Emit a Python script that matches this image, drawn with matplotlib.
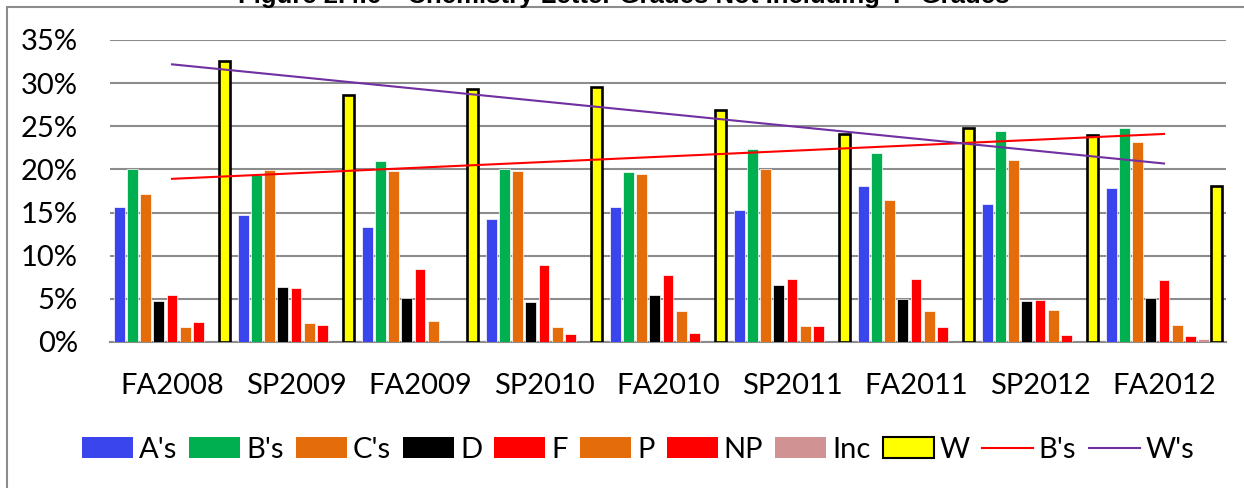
import numpy as np
import matplotlib
matplotlib.use("Agg")
import matplotlib.pyplot as plt
from matplotlib.patches import Rectangle, Patch
from matplotlib.lines import Line2D

terms = ["FA2008", "SP2009", "FA2009", "SP2010", "FA2010", "SP2011", "FA2011", "SP2012", "FA2012"]

a_s  = [15.6, 14.7, 13.3, 14.2, 15.7, 15.3, 18.1, 16.0, 17.9]
b_s  = [20.0, 19.3, 21.0, 20.0, 19.7, 22.4, 21.9, 24.5, 24.8]
c_s  = [17.2, 19.9, 19.8, 19.8, 19.5, 20.0, 16.4, 21.1, 23.2]
d_s  = [4.7, 6.4, 5.1, 4.6, 5.5, 6.6, 5.0, 4.7, 5.1]
f_s  = [5.4, 6.3, 8.5, 8.9, 7.8, 7.3, 7.3, 4.9, 7.2]
p_s  = [1.7, 2.2, 2.4, 1.7, 3.6, 1.9, 3.6, 3.7, 2.0]
np_s = [2.3, 2.0, 0.0, 0.9, 1.0, 1.8, 1.7, 0.8, 0.7]
inc  = [0.0, 0.0, 0.0, 0.0, 0.0, 0.0, 0.0, 0.0, 0.4]
w_s  = [32.6, 28.6, 29.3, 29.5, 26.9, 24.1, 24.8, 24.0, 18.1]

series_names = ["A's", "B's", "C's", "D", "F", "P", "NP", "Inc", "W"]
series_vals = [a_s, b_s, c_s, d_s, f_s, p_s, np_s, inc, w_s]
series_colors = ["#3A45EE", "#00B050", "#E46C0A", "#000000", "#FF0000",
                 "#E46C0A", "#FF0000", "#D09292", "#FFFF00"]
yticks = [0, 5, 10, 15, 20, 25, 30, 35]

FONT = ["Lato", "DejaVu Sans"]
plt.rcParams["font.family"] = FONT

fig = plt.figure(figsize=(12.44, 4.88), dpi=100)
W, H = 1244, 488
ax = fig.add_axes([110 / W, 1 - 342 / H, (1226 - 110) / W, (342 - 40) / H])

x = np.arange(len(terms))
step = 0.1065
bw = 0.088
for i, (name, vals, col) in enumerate(zip(series_names, series_vals, series_colors)):
    pos = x + (i - 4) * step
    if name == "W":
        ax.bar(pos, vals, width=bw, color=col, edgecolor="black", linewidth=1.9, zorder=3)
    else:
        ax.bar(pos, vals, width=bw, color=col, edgecolor="white", linewidth=0.5, zorder=3)

# linear trendlines
xs = np.array([0, len(terms) - 1])
kb = np.polyfit(x, b_s, 1)
kw = np.polyfit(x, w_s, 1)
ax.plot(xs, np.polyval(kb, xs), color="#FF0000", lw=1.5, zorder=4)
ax.plot(xs, np.polyval(kw, xs), color="#7030A0", lw=1.5, zorder=4)

ax.set_xlim(-0.5, len(terms) - 0.5)
ax.set_ylim(0, 35)
ax.set_yticks(yticks)
ax.set_yticklabels([f"{v}%" for v in yticks])
ax.set_xticks(x)
ax.set_xticklabels(terms)
ax.tick_params(axis="both", length=0, labelsize=21, colors="black")
ax.tick_params(axis="y", pad=23)
ax.tick_params(axis="x", pad=22)
ax.yaxis.grid(True, color="#8C8C8C", lw=1.5, zorder=0)
ax.set_axisbelow(True)
for s in ["left", "right", "top"]:
    ax.spines[s].set_visible(False)
ax.spines["bottom"].set_color("#8C8C8C")
ax.spines["bottom"].set_linewidth(1.5)
ax.spines["bottom"].set_zorder(2)

# legend
handles = []
for name, col in zip(series_names, series_colors):
    if name == "W":
        handles.append(Patch(facecolor=col, edgecolor="black", linewidth=1.5, label=name))
    else:
        handles.append(Patch(facecolor=col, edgecolor="none", label=name))
handles.append(Line2D([], [], color="#FF0000", lw=1.5, label="B's"))
handles.append(Line2D([], [], color="#7030A0", lw=1.5, label="W's"))
leg = fig.legend(handles=handles, loc="center", bbox_to_anchor=(638 / W, 1 - 450 / H),
                 ncol=11, frameon=False, fontsize=21, handlelength=1.75, handleheight=0.72,
                 handletextpad=0.2, columnspacing=0.42, borderaxespad=0, borderpad=0)

# outer border and (clipped, as in the reference) title
fig.patches.append(Rectangle((6.5 / W, -0.1), 1.2, 1.1 - 7 / H, transform=fig.transFigure,
                             fill=False, edgecolor="#8C8C8C", lw=1.5))
fig.text(630 / W, 1 - 2.5 / H, "Figure 2.4.6  \"Chemistry Letter Grades Not Including 'I'  Grades\"",
         ha="center", va="baseline", fontsize=18.5, fontweight="bold",
         family=["Liberation Sans", "DejaVu Sans"])

fig.savefig("out.png", dpi=100)
